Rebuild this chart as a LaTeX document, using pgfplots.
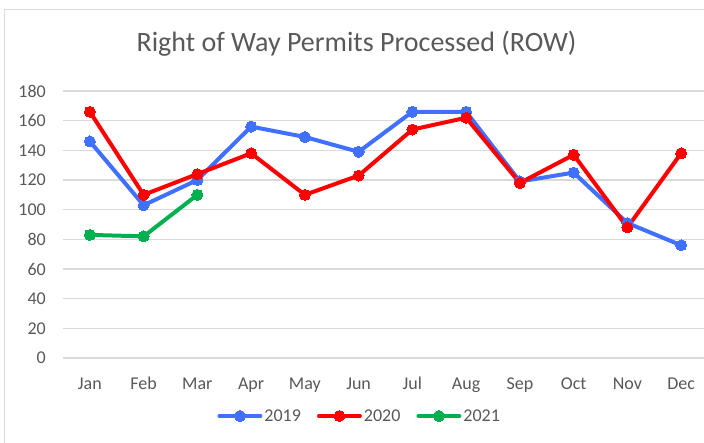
\documentclass[border=0pt]{standalone}
\usepackage{pgfplots}
\pgfplotsset{compat=1.18}
\usepackage{fontspec}
\setmainfont{Carlito}
\definecolor{c19}{RGB}{64,112,255}
\definecolor{c20}{RGB}{255,0,0}
\definecolor{c21}{RGB}{0,176,80}
\definecolor{gridc}{RGB}{217,217,217}
\definecolor{txt}{RGB}{89,89,89}
\begin{document}
\begin{tikzpicture}[x=1pt,y=1pt]
\path[use as bounding box] (0,0) rectangle (704,-442);
\fill[white] (0,0) rectangle (704,-442);
\draw[gridc, line width=1.5pt] (4.5,-470) -- (4.5,-9.5) -- (720,-9.5);
\node[txt, font=\fontsize{28}{32}\selectfont] at (356.5,-44) {Right of Way Permits Processed (ROW)};
\begin{axis}[
  at={(63pt,-358pt)}, anchor=south west,
  scale only axis, width=645pt, height=267pt,
  xmin=-0.5, xmax=11.5, ymin=0, ymax=180,
  ytick={0,20,...,180},
  xtick={0,...,11},
  xticklabels={Jan,Feb,Mar,Apr,May,Jun,Jul,Aug,Sep,Oct,Nov,Dec},
  axis line style={draw=none},
  tick style={draw=none},
  ymajorgrids,
  grid style={gridc, line width=1.2pt},
  /pgf/number format/assume math mode=true,
  ticklabel style={font=\fontsize{18}{21}\selectfont, text=txt},
  yticklabel style={inner sep=0pt, anchor=east, xshift=-17pt},
  xticklabel style={inner sep=0pt, anchor=north, text height=12pt, text depth=0pt, yshift=-19pt},
  clip=false,
  legend columns=3,
  legend style={at={(0.46,-0.217)}, anchor=center, draw=none, fill=none,
    font=\fontsize{18}{21}\selectfont, text=txt,
    /tikz/every even column/.append style={column sep=14pt},
    /tikz/every odd column/.append style={column sep=0pt}},
  legend image code/.code={
    \draw[#1, mark=none] (0pt,0pt) -- (41pt,0pt);
    \draw[#1, only marks] plot coordinates {(20.5pt,0pt)};
  },
  every axis plot/.append style={line width=4pt, line join=round, line cap=round, mark=*, mark size=5.5pt},
]
\addplot[color=c19, mark options={fill=c19, draw=c19, line width=0pt}] coordinates {
(0,146) (1,103) (2,120) (3,156) (4,149) (5,139) (6,166) (7,166) (8,119) (9,125) (10,91) (11,76)};
\addlegendentry{2019}
\addplot[color=c20, mark options={fill=c20, draw=c20, line width=0pt}] coordinates {
(0,166) (1,110) (2,124) (3,138) (4,110) (5,123) (6,154) (7,162) (8,118) (9,137) (10,88) (11,138)};
\addlegendentry{2020}
\addplot[color=c21, mark options={fill=c21, draw=c21, line width=0pt}] coordinates {
(0,83) (1,82) (2,110)};
\addlegendentry{2021}
\end{axis}
\end{tikzpicture}
\end{document}
